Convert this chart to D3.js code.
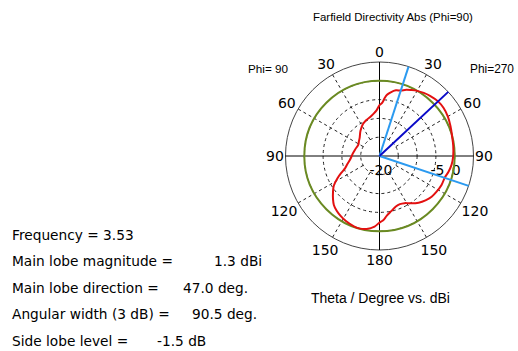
<!DOCTYPE html>
<html>
<head>
<meta charset="utf-8">
<script src="https://cdn.jsdelivr.net/npm/d3@7"></script>
<style>
  body { margin: 0; background: #fff; }
  svg { display: block; }
  text { font-family: 'DejaVu Sans', sans-serif; fill: #000; }
  text.narrow { font-family: 'Liberation Sans', Arial, sans-serif; }
</style>
</head>
<body>
<svg id="chart"></svg>
<script>
// theta in degrees, clockwise from top (0..180 = Phi=270 side, 180..360 = Phi=90 side)
const thetaDeg = [0, 3, 5, 7, 10, 14, 18, 22, 26, 30, 35, 40, 47, 53, 60, 67, 75, 82, 90,
  97, 103, 108, 115, 122, 128, 134, 140, 147, 152, 157, 162, 168, 173, 177, 180,
  184, 190, 195, 200, 207, 213, 218, 223, 227, 232, 237, 242, 246, 250, 256, 262,
  268, 274, 285, 299, 305, 313, 323, 333, 340, 346, 351, 356]
const directivityDb = [-6.5, -5.8, -4.6, -3.6, -2.8, -2.0, -1.7, -1.0, -0.5, 0.0, 0.5, 0.9, 1.3, 1.3, 1.0, 0.5, 0.0, -0.2, -0.4,
  -0.7, -1.2, -1.7, -1.8, -2.1, -2.4, -3.0, -3.8, -5.0, -5.8, -6.1, -5.9, -5.0, -4.0, -2.8, -2.3,
  -1.2, -0.3, 0.0, -0.1, -0.5, -1.0, -1.5, -2.2, -3.1, -4.3, -5.5, -7.3, -8.8, -10.2, -11.2, -12.0,
  -12.5, -12.8, -13.3, -13.6, -13.3, -12.8, -11.6, -10.4, -9.8, -9.4, -8.8, -7.9]

const refDb = 0                      // green reference circle
const mainLobeDir = 47               // dark blue line
const beamEdges = [18, 108.5]        // 3 dB width lines
const ringDb = [-15, -10, -5, 0]
const ringLabels = ['-20', '-5', '0']
const angleTicks = d3.range(0, 360, 30)

const infoLabels = ['Frequency = 3.53', 'Main lobe magnitude =', 'Main lobe direction =', 'Angular width (3 dB) =', 'Side lobe level =']
const infoValues = ['', '1.3 dBi', '47.0 deg.', '90.5 deg.', '-1.5 dB']
const infoValueX = [0, 214, 183, 192, 157]

const w = 518, h = 351
const cx = 379.5, cy = 156
const rOuter = 94

const svg = d3.select('#chart').attr('width', w).attr('height', h)

// scale font so the text spans the wanted width
const fit = (sel, width) => {
  const fs = +sel.attr('font-size')
  const len = sel.node().getComputedTextLength()
  sel.attr('font-size', (fs * width / len).toFixed(2))
  return sel
}

const r = d3.scaleLinear().domain([-20, 5]).range([0, rOuter]).clamp(true)
const rad = d => d * Math.PI / 180

const g = svg.append('g').attr('transform', `translate(${cx},${cy})`)

// dashed rings
g.selectAll('circle.ring')
  .data(ringDb).enter().append('circle')
  .attr('r', d => r(d))
  .attr('fill', 'none')
  .attr('stroke', '#222')
  .attr('stroke-width', 1)
  .attr('stroke-dasharray', '3,3')

// dashed spokes
g.selectAll('line.spoke')
  .data(angleTicks.filter(d => d % 90 != 0)).enter().append('line')
  .attr('x1', d => r(-15) * Math.sin(rad(d)))
  .attr('y1', d => -r(-15) * Math.cos(rad(d)))
  .attr('x2', d => rOuter * Math.sin(rad(d)))
  .attr('y2', d => -rOuter * Math.cos(rad(d)))
  .attr('stroke', '#222')
  .attr('stroke-dasharray', '3,3')

// outer circle and axes
g.append('circle').attr('r', rOuter).attr('fill', 'none').attr('stroke', '#444').attr('stroke-width', 1)
g.append('line').attr('x1', -rOuter).attr('x2', rOuter).attr('y1', 0).attr('y2', 0).attr('stroke', '#000')
g.append('line').attr('y1', -rOuter).attr('y2', rOuter).attr('x1', 0).attr('x2', 0).attr('stroke', '#000')

// angle labels
const angText = d => String(d <= 180 ? d : 360 - d)
const labPos = (d, f) => {
  const s = Math.sin(rad(d)), c = Math.cos(rad(d)), tw = angText(d).length * 7.5
  const R = 97 + Math.abs(s) * tw / 2 + Math.abs(c) * 7
  return f(R, s, c)
}
g.selectAll('text.ang')
  .data(angleTicks).enter().append('text')
  .attr('font-size', 14)
  .attr('text-anchor', 'middle')
  .attr('dominant-baseline', 'central')
  .attr('x', d => labPos(d, (R, s) => R * s))
  .attr('y', d => labPos(d, (R, s, c) => -R * c))
  .text(angText)

// ring labels
g.selectAll('text.rl')
  .data(ringLabels).enter().append('text')
  .attr('font-size', 14)
  .attr('text-anchor', 'middle')
  .attr('x', d => r(+d) + 1.5)
  .attr('y', 19)
  .text(d => d)

// reference circle
g.append('circle').attr('r', r(refDb)).attr('fill', 'none').attr('stroke', '#6a8a22').attr('stroke-width', 2)

// pattern
const pts = thetaDeg.map((t, i) => [rad(t), r(directivityDb[i])])
g.append('path')
  .attr('d', d3.lineRadial().curve(d3.curveCatmullRomClosed)(pts))
  .attr('fill', 'none')
  .attr('stroke', '#e31010')
  .attr('stroke-width', 2)

// 3 dB lines
g.selectAll('line.bw')
  .data(beamEdges).enter().append('line')
  .attr('x1', 0).attr('y1', 0)
  .attr('x2', d => rOuter * Math.sin(rad(d)))
  .attr('y2', d => -rOuter * Math.cos(rad(d)))
  .attr('stroke', '#2b9af0')
  .attr('stroke-width', 2)

// main lobe
g.append('line')
  .attr('x1', 0).attr('y1', 0)
  .attr('x2', rOuter * Math.sin(rad(mainLobeDir)))
  .attr('y2', -rOuter * Math.cos(rad(mainLobeDir)))
  .attr('stroke', '#0a0ac8')
  .attr('stroke-width', 2)

// titles
fit(svg.append('text').attr('class', 'narrow').attr('x', 313).attr('y', 21).attr('font-size', 13)
  .text('Farfield Directivity Abs (Phi=90)'), 160)
fit(svg.append('text').attr('class', 'narrow').attr('x', 248).attr('y', 73).attr('font-size', 13)
  .attr('xml:space', 'preserve').style('white-space', 'pre').text('Phi= 90'), 40)
fit(svg.append('text').attr('class', 'narrow').attr('x', 470).attr('y', 73).attr('font-size', 13)
  .text('Phi=270'), 44)
fit(svg.append('text').attr('class', 'narrow').attr('x', 311).attr('y', 303).attr('font-size', 13)
  .text('Theta / Degree vs. dBi'), 139)

// info block
const info = svg.append('g')
const probe = fit(info.append('text').attr('font-size', 14).text(infoLabels[1]), 161)
const infoFs = probe.attr('font-size')
probe.remove()
infoLabels.forEach((t, i) => {
  const y = 239.5 + i * 26.5
  info.append('text').attr('x', 12).attr('y', y).attr('font-size', infoFs).text(t)
  if (infoValues[i]) info.append('text').attr('x', infoValueX[i]).attr('y', y).attr('font-size', infoFs).text(infoValues[i])
})
</script>
</body>
</html>
